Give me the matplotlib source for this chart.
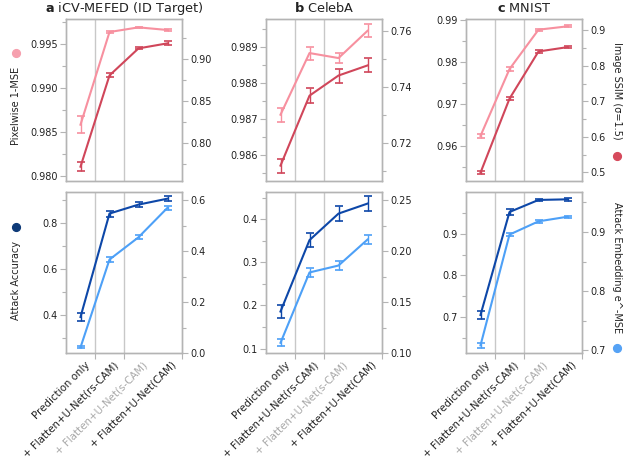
"""Reconstruction attack results: pixel/SSIM fidelity and attack accuracy per setting."""
import matplotlib
matplotlib.use("Agg")  # headless rendering
import matplotlib.pyplot as plt
from matplotlib.ticker import MultipleLocator, AutoMinorLocator
from matplotlib.lines import Line2D
from matplotlib.transforms import ScaledTranslation

plt.rcParams["font.family"] = "DejaVu Sans"
plt.rcParams["axes.formatter.useoffset"] = False

categories = [
    "Prediction only",
    "+ Flatten+U-Net(rs-CAM)",
    "+ Flatten+U-Net(s-CAM)",
    "+ Flatten+U-Net(CAM)",
]
titles = ["a", "b", "c"]
datasets = ["iCV-MEFED (ID Target)", "CelebA", "MNIST"]

# pixelwise 1-MSE (left axis, top row)
mse_a = [0.98583, 0.99636, 0.99689, 0.99659]
mse_err_a = [0.00095, 0.0001, 0.00006, 0.00008]
mse_b = [0.98712, 0.98884, 0.98870, 0.98946]
mse_err_b = [0.0002, 0.00018, 0.00015, 0.00018]
mse_c = [0.96239, 0.97833, 0.98773, 0.98853]
mse_err_c = [0.0005, 0.0004, 0.0002, 0.0002]

# image SSIM (right axis, top row)
ssim_a = [0.7722, 0.8806, 0.9127, 0.9187]
ssim_err_a = [0.0056, 0.0024, 0.0012, 0.0022]
ssim_b = [0.7120, 0.7370, 0.7442, 0.7478]
ssim_err_b = [0.0025, 0.0027, 0.0025, 0.0025]
ssim_c = [0.499, 0.7075, 0.8405, 0.8527]
ssim_err_c = [0.005, 0.005, 0.003, 0.002]

# attack accuracy (left axis, bottom row)
acc_a = [0.390, 0.841, 0.880, 0.906]
acc_err_a = [0.019, 0.013, 0.010, 0.010]
acc_b = [0.186, 0.3517, 0.4132, 0.4364]
acc_err_b = [0.014, 0.017, 0.017, 0.018]
acc_c = [0.7055, 0.9517, 0.9805, 0.982]
acc_err_c = [0.010, 0.006, 0.003, 0.003]

# attack embedding e^-MSE (right axis, bottom row)
emb_a = [0.022, 0.3675, 0.455, 0.571]
emb_err_a = [0.004, 0.008, 0.007, 0.008]
emb_b = [0.110, 0.1791, 0.1859, 0.2114]
emb_err_b = [0.0035, 0.004, 0.004, 0.0045]
emb_c = [0.7084, 0.8956, 0.918, 0.9258]
emb_err_c = [0.004, 0.002, 0.002, 0.002]

PINK = "#f7909f"
RED = "#d0465a"
DARK_BLUE = "#0d47a8"
LIGHT_BLUE = "#4da0f7"
SPINE = "#b4b4b4"
TEXT = "#222222"

panels = [
    dict(mse=(mse_a, mse_err_a), ssim=(ssim_a, ssim_err_a), acc=(acc_a, acc_err_a), emb=(emb_a, emb_err_a),
         lims=[(0.97943, 0.99784), (0.7552, 0.9476), (0.233, 0.935), (0.0, 0.633)],
         steps=[0.005, 0.05, 0.2, 0.2]),
    dict(mse=(mse_b, mse_err_b), ssim=(ssim_b, ssim_err_b), acc=(acc_b, acc_err_b), emb=(emb_b, emb_err_b),
         lims=[(0.98527, 0.98979), (0.7065, 0.7644), (0.0898, 0.4633), (0.10, 0.2581)],
         steps=[0.001, 0.02, 0.1, 0.05]),
    dict(mse=(mse_c, mse_err_c), ssim=(ssim_c, ssim_err_c), acc=(acc_c, acc_err_c), emb=(emb_c, emb_err_c),
         lims=[(0.95163, 0.99028), (0.4755, 0.932), (0.6146, 0.9995), (0.6955, 0.9676)],
         steps=[0.01, 0.1, 0.1, 0.1]),
]

W, H = 634, 461
fig = plt.figure(figsize=(W / 100, H / 100), dpi=100)

x = list(range(len(categories)))
lefts = [66, 266, 466]
rows = [(19, 181), (192, 353)]


def style(ax, step):
    for sp in ax.spines.values():
        sp.set_color(SPINE)
        sp.set_linewidth(1.0)
    ax.yaxis.set_major_locator(MultipleLocator(step))
    ax.yaxis.set_minor_locator(AutoMinorLocator(2))
    ax.tick_params(axis="y", which="major", length=4, width=0.8, color=SPINE,
                   labelsize=7, labelcolor=TEXT, pad=2)
    ax.tick_params(axis="y", which="minor", length=3, width=0.8, color=SPINE)


def draw(ax, vals, errs, color):
    ax.errorbar(x, vals, yerr=errs, color=color, lw=1.5, capsize=3.2,
                capthick=1.2, elinewidth=1.0)


for i, p in enumerate(panels):
    for r, (top, bot) in enumerate(rows):
        rect = [lefts[i] / W, 1 - bot / H, 116 / W, (bot - top) / H]
        ax = fig.add_axes(rect)
        ax2 = ax.twinx()
        ax.set_xlim(-0.5, 3.5)
        for xv in (0.5, 1.5):
            ax.axvline(xv, color="#c8c8c8", lw=1.0, zorder=0)
        if r == 0:
            draw(ax, *p["mse"], PINK)
            draw(ax2, *p["ssim"], RED)
            ax.set_ylim(*p["lims"][0])
            ax2.set_ylim(*p["lims"][1])
            style(ax, p["steps"][0])
            style(ax2, p["steps"][1])
            ax.set_xticks([])
            ax.set_title(r"$\bf{" + titles[i] + "}$ " + datasets[i], fontsize=9.3,
                         color=TEXT, pad=5)
        else:
            draw(ax, *p["acc"], DARK_BLUE)
            draw(ax2, *p["emb"], LIGHT_BLUE)
            ax.set_ylim(*p["lims"][2])
            ax2.set_ylim(*p["lims"][3])
            style(ax, p["steps"][2])
            style(ax2, p["steps"][3])
            ax.set_xticks(x)
            ax.set_xticklabels(categories, rotation=45, ha="right",
                               rotation_mode="anchor", fontsize=7.4, color=TEXT)
            ax.get_xticklabels()[2].set_color("#a8a8a8")
            ax.tick_params(axis="x", which="major", length=0, pad=5)
            ax.set_xticks([0.5, 1.5, 3.5], minor=True)
            ax.tick_params(axis="x", which="minor", length=4, width=0.8, color=SPINE)
            offset = ScaledTranslation(4 / 100, 0, fig.dpi_scale_trans)
            for lab in ax.get_xticklabels():
                lab.set_transform(lab.get_transform() + offset)
        ax2.set_xlim(-0.5, 3.5)

# axis labels with coloured markers acting as legend keys
fig.text(16 / W, 1 - 106 / H, "Pixelwise 1-MSE", rotation=90, ha="center", va="center",
         fontsize=7, color=TEXT)
fig.text(16 / W, 1 - 280 / H, "Attack Accuracy", rotation=90, ha="center", va="center",
         fontsize=7, color=TEXT)
fig.text(617 / W, 1 - 91 / H, "Image SSIM (σ=1.5)", rotation=-90, ha="center", va="center",
         fontsize=7, color=TEXT)
fig.text(617 / W, 1 - 268 / H, "Attack Embedding e^-MSE", rotation=-90, ha="center",
         va="center", fontsize=7, color=TEXT)

for (px, py, c) in [(16, 53, "#f6a0ae"), (16, 227, "#0e3a78"),
                    (617, 156, "#d64a5c"), (617, 348, "#55a2f5")]:
    fig.add_artist(Line2D([px / W], [1 - py / H], marker="o", markersize=5.6,
                          color=c, transform=fig.transFigure))

fig.savefig("out.png", dpi=100)
plt.close(fig)
